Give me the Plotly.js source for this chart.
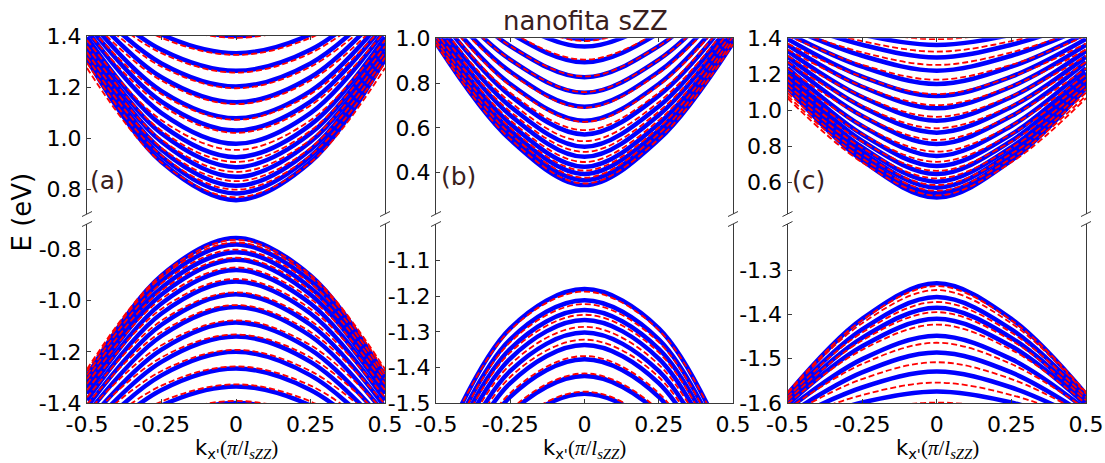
<!DOCTYPE html>
<html>
<head>
<meta charset="utf-8">
<script src="https://cdn.plot.ly/plotly-3.0.1.min.js"></script>
<style>
  html, body { margin: 0; padding: 0; background: #ffffff; }
  #chart { width: 1105px; height: 463px; }
</style>
</head>
<body>
<div id="chart"></div>
<script>
// Momentum samples shared by every band (units of pi / l_sZZ)
const kSamples = [-0.5, -0.25, 0, 0.25, 0.5];
const xTickVals = [-0.5, -0.25, 0, 0.25, 0.5];
const xTickText = ['-0.5', '-0.25', '0', '0.25', '0.5'];

// Every band is listed as [E(k=0), E(|k|=0.25), E(|k|=0.5)] in eV.
// Solid bands = full model, dashed bands = approximate model.

// (a) conduction
const condA_solid = [[0.759,0.908,1.309],[0.785,0.930,1.323],[0.815,0.956,1.338],[0.850,0.987,1.356],[0.888,1.019,1.375],[0.927,1.053,1.395],[0.979,1.099,1.422],[1.031,1.144,1.448],[1.079,1.185,1.473],[1.141,1.239,1.504],[1.203,1.293,1.536],[1.264,1.346,1.567],[1.333,1.406,1.602],[1.400,1.464,1.637]];
const condA_dashed = [[0.770,0.906,1.275],[0.800,0.934,1.295],[0.833,0.963,1.315],[0.869,0.995,1.336],[0.908,1.030,1.360],[0.955,1.071,1.384],[1.022,1.129,1.419],[1.073,1.173,1.445],[1.134,1.226,1.476],[1.196,1.280,1.507],[1.257,1.333,1.538],[1.326,1.393,1.574],[1.393,1.451,1.608]];
// (a) valence
const valA_solid = [[-0.755,-0.901,-1.295],[-0.780,-0.923,-1.309],[-0.810,-0.949,-1.325],[-0.840,-0.976,-1.342],[-0.880,-1.011,-1.364],[-0.925,-1.050,-1.389],[-0.975,-1.094,-1.416],[-1.025,-1.138,-1.444],[-1.085,-1.191,-1.477],[-1.140,-1.239,-1.507],[-1.200,-1.292,-1.540],[-1.265,-1.349,-1.576],[-1.335,-1.410,-1.614],[-1.400,-1.468,-1.650]];
const valA_dashed = [[-0.762,-0.899,-1.268],[-0.772,-0.908,-1.275],[-0.800,-0.932,-1.290],[-0.832,-0.960,-1.306],[-0.870,-0.993,-1.326],[-0.915,-1.032,-1.350],[-0.967,-1.078,-1.378],[-1.017,-1.122,-1.405],[-1.077,-1.174,-1.436],[-1.132,-1.222,-1.467],[-1.192,-1.275,-1.500],[-1.257,-1.332,-1.535],[-1.327,-1.394,-1.574],[-1.392,-1.451,-1.610]];

// (b) conduction
const condB_solid = [[0.345,0.548,0.980],[0.367,0.567,0.993],[0.394,0.590,1.008],[0.427,0.619,1.028],[0.471,0.657,1.053],[0.516,0.696,1.079],[0.571,0.744,1.111],[0.632,0.796,1.146],[0.695,0.851,1.183],[0.757,0.905,1.219],[0.826,0.965,1.259],[0.893,1.023,1.298],[0.963,1.083,1.338],[0.997,1.112,1.358]];
const condB_dashed = [[0.352,0.551,0.974],[0.378,0.574,0.989],[0.410,0.601,1.008],[0.448,0.634,1.030],[0.493,0.673,1.056],[0.541,0.715,1.084],[0.590,0.757,1.112],[0.627,0.789,1.134],[0.690,0.844,1.170],[0.760,0.904,1.211],[0.830,0.965,1.251],[0.905,1.030,1.295],[0.988,1.102,1.343]];
// (b) valence
const valB_solid = [[-1.180,-1.290,-1.660],[-1.211,-1.321,-1.688],[-1.239,-1.348,-1.713],[-1.267,-1.375,-1.738],[-1.302,-1.410,-1.770],[-1.337,-1.444,-1.801],[-1.377,-1.483,-1.837],[-1.424,-1.529,-1.880],[-1.474,-1.578,-1.925],[-1.525,-1.628,-1.971]];
const valB_dashed = [[-1.187,-1.295,-1.656],[-1.222,-1.329,-1.688],[-1.252,-1.358,-1.715],[-1.286,-1.392,-1.745],[-1.322,-1.427,-1.778],[-1.368,-1.472,-1.819],[-1.417,-1.520,-1.863],[-1.468,-1.569,-1.909],[-1.518,-1.618,-1.954]];

// (c) conduction
const condC_solid = [[0.515,0.722,1.125],[0.539,0.742,1.137],[0.570,0.768,1.151],[0.603,0.795,1.167],[0.646,0.830,1.188],[0.690,0.866,1.209],[0.746,0.913,1.236],[0.813,0.968,1.268],[0.876,1.019,1.298],[0.942,1.074,1.330],[1.011,1.131,1.363],[1.079,1.187,1.396],[1.146,1.242,1.428],[1.220,1.303,1.463],[1.294,1.364,1.499],[1.363,1.420,1.532]];
const condC_dashed = [[0.527,0.711,1.067],[0.553,0.733,1.081],[0.585,0.759,1.098],[0.622,0.791,1.118],[0.664,0.826,1.141],[0.714,0.868,1.168],[0.770,0.916,1.198],[0.835,0.970,1.233],[0.900,1.025,1.268],[0.964,1.079,1.303],[1.029,1.134,1.338],[1.090,1.186,1.371],[1.170,1.253,1.414],[1.252,1.322,1.458],[1.326,1.384,1.498],[1.395,1.443,1.536]];
// (c) valence
const valC_solid = [[-1.330,-1.410,-1.580],[-1.361,-1.434,-1.589],[-1.385,-1.453,-1.597],[-1.410,-1.472,-1.604],[-1.448,-1.501,-1.615],[-1.486,-1.531,-1.627],[-1.529,-1.565,-1.640],[-1.574,-1.599,-1.653],[-1.620,-1.635,-1.667]];
const valC_dashed = [[-1.336,-1.413,-1.576],[-1.345,-1.420,-1.579],[-1.372,-1.441,-1.587],[-1.395,-1.459,-1.594],[-1.423,-1.480,-1.602],[-1.464,-1.512,-1.614],[-1.508,-1.546,-1.628],[-1.554,-1.582,-1.641],[-1.599,-1.617,-1.655]];

// Energy windows, tick positions and tick labels of each sub-panel
const rangeA_up = [0.705, 1.4];
const ticksA_up = [0.8, 1.0, 1.2, 1.4];
const labelsA_up = ['0.8', '1.0', '1.2', '1.4'];
const rangeA_lo = [-1.4, -0.70];
const ticksA_lo = [-1.4, -1.2, -1.0, -0.8];
const labelsA_lo = ['-1.4', '-1.2', '-1.0', '-0.8'];
const rangeB_up = [0.216, 1.0];
const ticksB_up = [0.4, 0.6, 0.8, 1.0];
const labelsB_up = ['0.4', '0.6', '0.8', '1.0'];
const rangeB_lo = [-1.5, -0.997];
const ticksB_lo = [-1.5, -1.4, -1.3, -1.2, -1.1];
const labelsB_lo = ['-1.5', '-1.4', '-1.3', '-1.2', '-1.1'];
const rangeC_up = [0.424, 1.4];
const ticksC_up = [0.6, 0.8, 1.0, 1.2, 1.4];
const labelsC_up = ['0.6', '0.8', '1.0', '1.2', '1.4'];
const rangeC_lo = [-1.6, -1.196];
const ticksC_lo = [-1.6, -1.5, -1.4, -1.3];
const labelsC_lo = ['-1.6', '-1.5', '-1.4', '-1.3'];

const W = 1105, H = 463;
const px = v => v / W;          // pixel column -> paper x
const py = v => 1 - v / H;      // pixel row    -> paper y

const FONT = 'DejaVu Sans, Arial, sans-serif';
const AXIS_COLOR = '#3a3a3a';
const TEXT_BROWN = '#3a1e1e';

const solidStyle  = { color: '#0000ff', width: 4.5, shape: 'spline' };
const dashedStyle = { color: '#ff0000', width: 1.8, dash: '6px,3px', shape: 'spline' };

function bandTrace(b, xa, ya, style) {
  return {
    x: kSamples,
    y: [b[2], b[1], b[0], b[1], b[2]],
    xaxis: xa, yaxis: ya,
    type: 'scatter', mode: 'lines',
    line: style, hoverinfo: 'skip', showlegend: false
  };
}

// column pixel bounds, row pixel bounds
const cols = [[87, 385], [436, 733], [787.5, 1086]];
const upRows = [[36, 214], [38.3, 214], [38.3, 214]];
const loRow = [224, 403];

const panels = [
  { xUp: 'x2', yUp: 'y2', xLo: 'x', yLo: 'y',
    up: [condA_solid, condA_dashed], lo: [valA_solid, valA_dashed] },
  { xUp: 'x4', yUp: 'y4', xLo: 'x3', yLo: 'y3',
    up: [condB_solid, condB_dashed], lo: [valB_solid, valB_dashed] },
  { xUp: 'x6', yUp: 'y6', xLo: 'x5', yLo: 'y5',
    up: [condC_solid, condC_dashed], lo: [valC_solid, valC_dashed] }
];

const traces = [];
panels.forEach(p => {
  p.up[0].forEach(b => traces.push(bandTrace(b, p.xUp, p.yUp, solidStyle)));
  p.lo[0].forEach(b => traces.push(bandTrace(b, p.xLo, p.yLo, solidStyle)));
});
panels.forEach(p => {
  p.up[1].forEach(b => traces.push(bandTrace(b, p.xUp, p.yUp, dashedStyle)));
  p.lo[1].forEach(b => traces.push(bandTrace(b, p.xLo, p.yLo, dashedStyle)));
});

const tickFont = { family: FONT, size: 22, color: '#000000' };

function xAxisLower(ci, yId) {
  return {
    domain: [px(cols[ci][0]), px(cols[ci][1])], anchor: yId,
    range: [-0.5, 0.5], tickvals: xTickVals, ticktext: xTickText,
    ticks: 'inside', ticklen: 4, tickcolor: AXIS_COLOR, ticklabelstandoff: 2,
    showline: true, linecolor: AXIS_COLOR, linewidth: 1,
    showgrid: false, zeroline: false, tickfont: tickFont,
    fixedrange: true
  };
}
function xAxisUpper(ci, yId) {
  return {
    domain: [px(cols[ci][0]), px(cols[ci][1])], anchor: yId, side: 'top',
    range: [-0.5, 0.5], tickvals: xTickVals, showticklabels: false,
    ticks: 'inside', ticklen: 4, tickcolor: AXIS_COLOR,
    showline: true, linecolor: AXIS_COLOR, linewidth: 1,
    showgrid: false, zeroline: false, fixedrange: true
  };
}
function yAxis(row, xId, range, ticks, labels) {
  return {
    domain: [py(row[1]), py(row[0])], anchor: xId,
    range: range, tickvals: ticks, ticktext: labels,
    ticks: 'inside', ticklen: 4, tickcolor: AXIS_COLOR,
    showline: true, mirror: true, linecolor: AXIS_COLOR, linewidth: 1,
    showgrid: false, zeroline: false, tickfont: tickFont,
    fixedrange: true
  };
}

// axis-break marks ("//") on every vertical axis line
const shapes = [];
cols.forEach(c => {
  [c[0], c[1]].forEach(xp => {
    [214, 224].forEach(yp => {
      shapes.push({
        type: 'line', xref: 'paper', yref: 'paper',
        x0: px(xp - 5), y0: py(yp + 2.5), x1: px(xp + 5), y1: py(yp - 2.5),
        line: { color: AXIS_COLOR, width: 1 }
      });
    });
  });
});

const xTitle = 'k<sub>x\'</sub><span style="font-family:\'Liberation Serif\',serif">(<i>π</i>/<i>l</i><sub><i>sZZ</i></sub>)</span>';

const annotations = [
  { text: 'nanofita sZZ', x: px(585), y: py(21), font: { family: FONT, size: 26, color: TEXT_BROWN } },
  { text: '(a)', x: px(107), y: py(180), font: { family: FONT, size: 25, color: TEXT_BROWN } },
  { text: '(b)', x: px(458), y: py(176), font: { family: FONT, size: 25, color: TEXT_BROWN } },
  { text: '(c)', x: px(808), y: py(180), font: { family: FONT, size: 25, color: TEXT_BROWN } },
  { text: 'E (eV)', x: px(21), y: py(212.5), textangle: -90, font: { family: FONT, size: 26, color: '#000000' } },
  { text: xTitle, x: px(236), y: py(448.5), font: { family: FONT, size: 21, color: '#000000' } },
  { text: xTitle, x: px(584.5), y: py(448.5), font: { family: FONT, size: 21, color: '#000000' } },
  { text: xTitle, x: px(937), y: py(448.5), font: { family: FONT, size: 21, color: '#000000' } }
].map(a => Object.assign({ xref: 'paper', yref: 'paper', showarrow: false,
                           xanchor: 'center', yanchor: 'middle' }, a));

const layout = {
  width: W, height: H,
  margin: { l: 0, r: 0, t: 0, b: 0 },
  paper_bgcolor: '#ffffff', plot_bgcolor: '#ffffff',
  showlegend: false,
  font: { family: FONT },
  xaxis:  xAxisLower(0, 'y'),
  xaxis2: xAxisUpper(0, 'y2'),
  xaxis3: xAxisLower(1, 'y3'),
  xaxis4: xAxisUpper(1, 'y4'),
  xaxis5: xAxisLower(2, 'y5'),
  xaxis6: xAxisUpper(2, 'y6'),
  yaxis:  yAxis(loRow, 'x', rangeA_lo, ticksA_lo, labelsA_lo),
  yaxis2: yAxis(upRows[0], 'x2', rangeA_up, ticksA_up, labelsA_up),
  yaxis3: yAxis(loRow, 'x3', rangeB_lo, ticksB_lo, labelsB_lo),
  yaxis4: yAxis(upRows[1], 'x4', rangeB_up, ticksB_up, labelsB_up),
  yaxis5: yAxis(loRow, 'x5', rangeC_lo, ticksC_lo, labelsC_lo),
  yaxis6: yAxis(upRows[2], 'x6', rangeC_up, ticksC_up, labelsC_up),
  shapes: shapes,
  annotations: annotations
};

Plotly.newPlot('chart', traces, layout, { staticPlot: true, displayModeBar: false });
</script>
</body>
</html>
